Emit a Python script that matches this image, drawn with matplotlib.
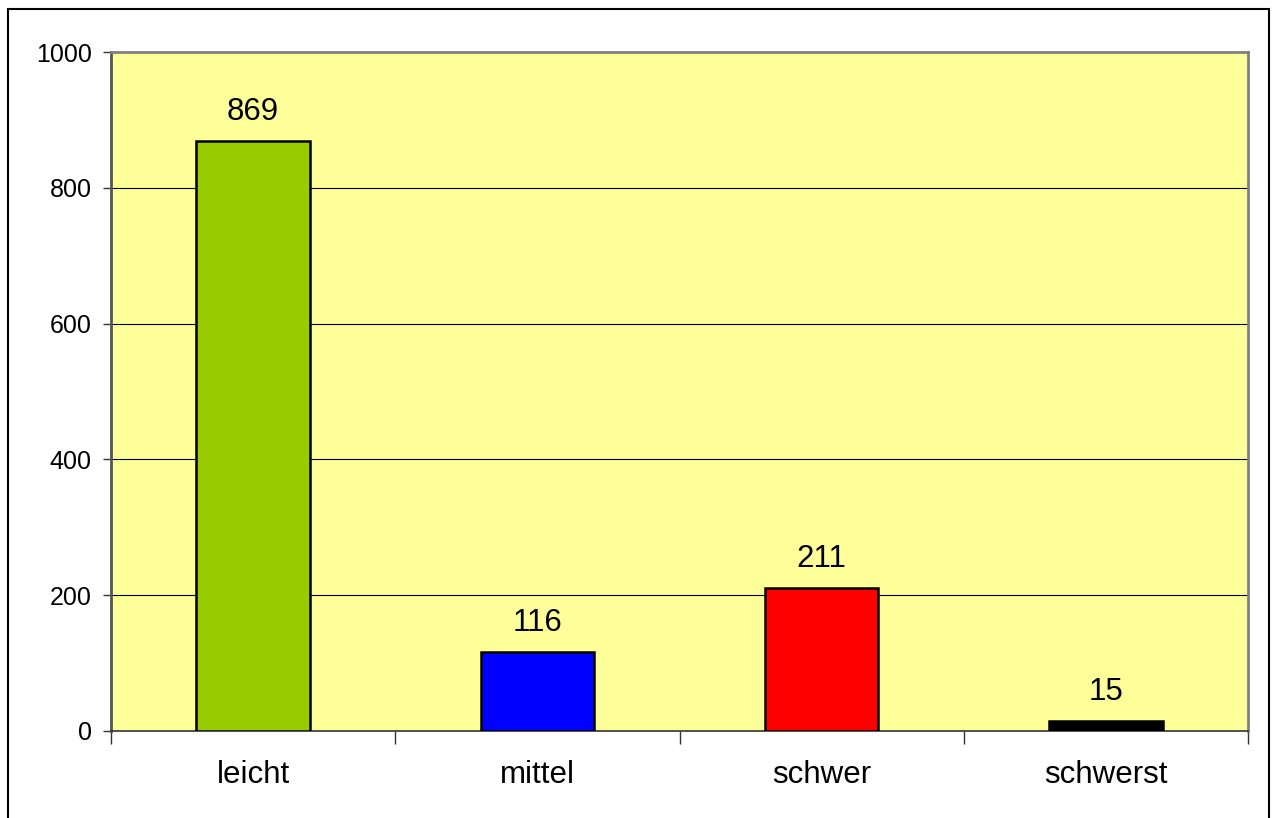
import matplotlib
matplotlib.use("Agg")
import matplotlib.pyplot as plt
from matplotlib.patches import Rectangle

plt.rcParams['font.family'] = ['Liberation Sans', 'DejaVu Sans']

categories = ["leicht", "mittel", "schwer", "schwerst"]
values = [869, 116, 211, 15]
colors = ["#99CC00", "#0000FF", "#FF0000", "#000000"]
yticks = [0, 200, 400, 600, 800, 1000]

W, H = 1272, 818
fig = plt.figure(figsize=(W / 100, H / 100), dpi=100)
ax = fig.add_axes([111 / W, 1 - 731 / H, (1248 - 111) / W, (731 - 52) / H])
ax.set_facecolor("#FFFF99")

x = list(range(len(categories)))
ax.bar(x, values, width=0.4, color=colors, edgecolor="black", linewidth=1.8, zorder=3)
for xi, v in zip(x, values):
    ax.annotate(str(v), (xi, v), xytext=(0, 10), textcoords="offset points",
                ha="center", va="bottom", fontsize=22.5, zorder=4)

ax.set_xlim(-0.5, len(categories) - 0.5)
ax.set_ylim(0, 1000)
ax.set_yticks(yticks)
ax.set_yticklabels([str(t) for t in yticks], fontsize=18)
ax.tick_params(axis="y", direction="out", length=6, width=1, color="#333333", pad=8)
for t in yticks[1:-1]:
    ax.axhline(t, color="black", linewidth=0.8, zorder=1)

ax.set_xticks([i - 0.5 for i in range(len(categories) + 1)], minor=False)
ax.set_xticklabels([""] * (len(categories) + 1))
ax.tick_params(axis="x", direction="out", length=9, width=1, color="#333333")
ax.set_xticks(x, minor=True)
ax.set_xticklabels(categories, minor=True, fontsize=22.5)
ax.tick_params(axis="x", which="minor", length=0, pad=21)

for side in ["left", "top", "right"]:
    ax.spines[side].set_color("#808080")
    ax.spines[side].set_linewidth(2)
ax.spines["bottom"].set_color("#333333")
ax.spines["bottom"].set_linewidth(1.2)
ax.spines["left"].set_color("#555555")

# outer chart border
fig.patches.append(Rectangle((8 / W, -0.05), (1269 - 8) / W, 1 - 9 / H + 0.05,
                             transform=fig.transFigure, fill=False,
                             edgecolor="black", linewidth=1.5))

fig.savefig("out.png", dpi=100, facecolor="white")
